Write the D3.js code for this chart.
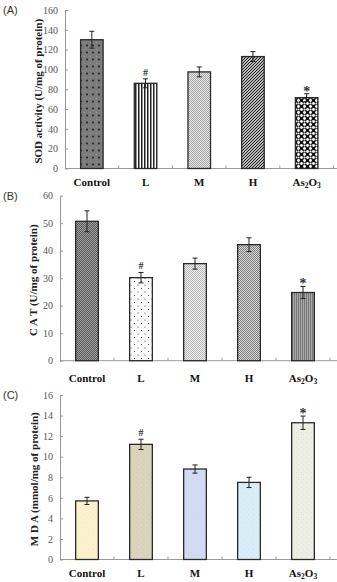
<!DOCTYPE html>
<html>
<head>
<meta charset="utf-8">
<script src="https://cdn.jsdelivr.net/npm/d3@7"></script>
<style>
  body { margin: 0; background: #fff; }
  svg { display: block; }
</style>
</head>
<body>
<div id="chartDiv"></div>
<script>
// groups and values
var groups = ["Control", "L", "M", "H", "As2O3"];

var sodValues = [130, 86, 97.5, 113, 71.5];
var sodErrors = [8.5, 4.5, 5, 5, 4];
var sodTicks = [0, 20, 40, 60, 80, 100, 120, 140, 160];

var catValues = [50.7, 30.2, 35.3, 42.2, 24.8];
var catErrors = [3.8, 1.9, 2.0, 2.5, 2.2];
var catTicks = [0, 10, 20, 30, 40, 50, 60];

var mdaValues = [5.7, 11.2, 8.8, 7.5, 13.3];
var mdaErrors = [0.35, 0.5, 0.4, 0.5, 0.65];
var mdaTicks = [0, 2, 4, 6, 8, 10, 12, 14, 16];

var marks = ["", "#", "", "", "*"];

;(function() {

	var width = 337;
	var height = 582;

	var svg = d3.select("#chartDiv").append("svg")
		.attr("width", width)
		.attr("height", height);

	var defs = svg.append("defs");

	// ---- fill patterns ----
	function pattern(id, w, h, bg) {
		var p = defs.append("pattern")
			.attr("id", id)
			.attr("patternUnits", "userSpaceOnUse")
			.attr("width", w)
			.attr("height", h);
		p.append("rect").attr("width", w).attr("height", h).attr("fill", bg);
		return p;
	}
	function checker(id, a, b) {
		var p = pattern(id, 2, 2, a);
		p.append("rect").attr("width", 1).attr("height", 1).attr("fill", b);
		p.append("rect").attr("x", 1).attr("y", 1).attr("width", 1).attr("height", 1).attr("fill", b);
	}

	// panel A
	var p = pattern("pA0", 6, 7, "#7c7c7c");
	p.append("rect").attr("x", 0).attr("y", 0).attr("width", 1).attr("height", 1).attr("fill", "#9a9a9a");
	p.append("rect").attr("x", 3).attr("y", 3).attr("width", 1).attr("height", 1).attr("fill", "#9a9a9a");
	p.append("circle").attr("cx", 3).attr("cy", 3.5).attr("r", 0.9).attr("fill", "#111");

	p = pattern("pA1", 3, 3, "#fff");
	p.append("rect").attr("width", 1.5).attr("height", 3).attr("fill", "#222");

	checker("pA2", "#e6e6e6", "#a8a8a8");

	p = pattern("pA3", 3, 3, "#fff");
	p.append("path").attr("d", "M-1,1 L1,-1 M0,3 L3,0 M2,4 L4,2").attr("stroke", "#1a1a1a").attr("stroke-width", 1.2);

	p = pattern("pA4", 6, 6, "#111");
	p.append("circle").attr("cx", 1.5).attr("cy", 1.5).attr("r", 1.4).attr("fill", "#fff");
	p.append("circle").attr("cx", 4.5).attr("cy", 4.5).attr("r", 1.4).attr("fill", "#fff");
	p.append("circle").attr("cx", 4.5).attr("cy", 1.5).attr("r", 1.1).attr("fill", "#eee");

	// panel B
	checker("pB0", "#5a5a5a", "#a0a0a0");
	p = pattern("pB1", 7, 7, "#fff");
	p.append("circle").attr("cx", 1.5).attr("cy", 1.5).attr("r", 0.6).attr("fill", "#333");
	p.append("circle").attr("cx", 5).attr("cy", 5).attr("r", 0.6).attr("fill", "#333");
	checker("pB2", "#f2f2f2", "#b4b4b4");
	checker("pB3", "#d8d8d8", "#7e7e7e");
	p = pattern("pB4", 2, 2, "#a9a9a9");
	p.append("rect").attr("width", 1).attr("height", 2).attr("fill", "#777");

	// panel C (light colour fills with a bit of speckle)
	function speckle(id, bg, dot) {
		var q = pattern(id, 5, 5, bg);
		q.append("rect").attr("x", 1).attr("y", 2).attr("width", 1).attr("height", 1).attr("fill", dot);
		q.append("rect").attr("x", 3).attr("y", 4).attr("width", 1).attr("height", 1).attr("fill", dot);
	}
	speckle("pC0", "#fbf1cf", "#f6e9c0");
	speckle("pC1", "#d9d4bb", "#cfc9ae");
	speckle("pC2", "#d0dcf4", "#dccde9");
	speckle("pC3", "#d9eef8", "#cbe4f2");
	speckle("pC4", "#edefe7", "#dfe2d8");

	var panels = [
		{ label: "(A)", labelY: 14, values: sodValues, errors: sodErrors, ticks: sodTicks,
		  title: "SOD activity (U/mg of protein)", titleX: 42, left: 65, right: 333.5, top: 10, bottom: 168.5,
		  xLabelY: 186, fills: ["pA0", "pA1", "pA2", "pA3", "pA4"] },
		{ label: "(B)", labelY: 200, values: catValues, errors: catErrors, ticks: catTicks,
		  title: "C A T (U/mg of protein)", titleX: 37, left: 60, right: 330, top: 195.7, bottom: 360.7,
		  xLabelY: 382, fills: ["pB0", "pB1", "pB2", "pB3", "pB4"] },
		{ label: "(C)", labelY: 399, values: mdaValues, errors: mdaErrors, ticks: mdaTicks,
		  title: "M D A (mmol/mg of protein)", titleX: 38, left: 60, right: 330, top: 395, bottom: 559.5,
		  xLabelY: 577, fills: ["pC0", "pC1", "pC2", "pC3", "pC4"] }
	];

	panels.forEach(drawPanel);

	function drawPanel(cfg) {
		var g = svg.append("g");

		var xScale = d3.scaleBand()
			.domain(groups)
			.range([cfg.left, cfg.right])
			.padding(0);

		var yScale = d3.scaleLinear()
			.domain([cfg.ticks[0], cfg.ticks[cfg.ticks.length - 1]])
			.range([cfg.bottom, cfg.top]);

		// y axis
		var yAxis = d3.axisLeft(yScale)
			.tickValues(cfg.ticks)
			.tickSizeInner(-3)
			.tickSizeOuter(0)
			.tickPadding(7);

		var yg = g.append("g")
			.attr("transform", "translate(" + cfg.left + ",0)")
			.call(yAxis);
		yg.select(".domain").attr("stroke", "#999");
		yg.selectAll(".tick line").attr("stroke", "#999");
		yg.selectAll(".tick text")
			.attr("fill", "#555")
			.style("font-family", "'Liberation Serif', 'Times New Roman', serif")
			.style("font-size", "10px");

		// x axis line with small ticks between categories
		g.append("line")
			.attr("x1", cfg.left).attr("x2", width)
			.attr("y1", cfg.bottom).attr("y2", cfg.bottom)
			.attr("stroke", "#999");

		var bounds = groups.slice(1).map(function(d) { return xScale(d); });
		bounds.push(cfg.right);
		g.selectAll(".xtick")
			.data(bounds)
			.enter().append("line")
			.attr("class", "xtick")
			.attr("x1", function(d) { return d; })
			.attr("x2", function(d) { return d; })
			.attr("y1", cfg.bottom)
			.attr("y2", cfg.bottom - 3)
			.attr("stroke", "#999");

		var barW = xScale.bandwidth() * 0.42;

		// bars
		g.selectAll(".bar")
			.data(groups)
			.enter().append("rect")
			.attr("class", "bar")
			.attr("x", function(d) { return xScale(d) + (xScale.bandwidth() - barW) / 2; })
			.attr("y", function(d, i) { return yScale(cfg.values[i]); })
			.attr("width", barW)
			.attr("height", function(d, i) { return cfg.bottom - yScale(cfg.values[i]); })
			.attr("fill", function(d, i) { return "url(#" + cfg.fills[i] + ")"; })
			.attr("stroke", "#2a2a2a")
			.attr("stroke-width", 1.3);

		// error bars
		var cap = 2.5;
		var eb = g.selectAll(".err")
			.data(groups)
			.enter().append("g")
			.attr("class", "err")
			.attr("stroke", "#222")
			.attr("stroke-width", 1);

		eb.append("line")
			.attr("x1", function(d) { return xScale(d) + xScale.bandwidth() / 2; })
			.attr("x2", function(d) { return xScale(d) + xScale.bandwidth() / 2; })
			.attr("y1", function(d, i) { return yScale(cfg.values[i] - cfg.errors[i]); })
			.attr("y2", function(d, i) { return yScale(cfg.values[i] + cfg.errors[i]); });
		eb.append("line")
			.attr("x1", function(d) { return xScale(d) + xScale.bandwidth() / 2 - cap; })
			.attr("x2", function(d) { return xScale(d) + xScale.bandwidth() / 2 + cap; })
			.attr("y1", function(d, i) { return yScale(cfg.values[i] + cfg.errors[i]); })
			.attr("y2", function(d, i) { return yScale(cfg.values[i] + cfg.errors[i]); });
		eb.append("line")
			.attr("x1", function(d) { return xScale(d) + xScale.bandwidth() / 2 - cap; })
			.attr("x2", function(d) { return xScale(d) + xScale.bandwidth() / 2 + cap; })
			.attr("y1", function(d, i) { return yScale(cfg.values[i] - cfg.errors[i]); })
			.attr("y2", function(d, i) { return yScale(cfg.values[i] - cfg.errors[i]); });

		// significance marks
		g.selectAll(".sig")
			.data(groups)
			.enter().append("text")
			.attr("class", "sig")
			.attr("x", function(d) { return xScale(d) + xScale.bandwidth() / 2; })
			.attr("y", function(d, i) { return yScale(cfg.values[i] + cfg.errors[i]) - (marks[i] === "*" ? -2 : 3); })
			.attr("text-anchor", "middle")
			.style("font-family", "'Liberation Serif', 'Times New Roman', serif")
			.style("font-size", function(d, i) { return marks[i] === "*" ? "14px" : "10px"; })
			.style("font-weight", "bold")
			.attr("fill", "#333")
			.text(function(d, i) { return marks[i]; });

		// category labels
		var xl = g.selectAll(".xlab")
			.data(groups)
			.enter().append("text")
			.attr("class", "xlab")
			.attr("x", function(d) { return xScale(d) + xScale.bandwidth() / 2; })
			.attr("y", cfg.xLabelY)
			.attr("text-anchor", "middle")
			.style("font-family", "'Liberation Serif', 'Times New Roman', serif")
			.style("font-size", "11px")
			.style("font-weight", "bold")
			.attr("fill", "#111");
		xl.each(function(d) {
			var t = d3.select(this);
			if (d === "As2O3") {
				t.append("tspan").text("As");
				t.append("tspan").attr("dy", 1.5).style("font-size", "7.5px").text("2");
				t.append("tspan").attr("dy", -1.5).text("O");
				t.append("tspan").attr("dy", 1.5).style("font-size", "7.5px").text("3");
			} else {
				t.text(d);
			}
		});

		// y axis title
		g.append("text")
			.attr("transform", "translate(" + cfg.titleX + "," + ((cfg.top + cfg.bottom) / 2 + 2) + ") rotate(-90)")
			.attr("text-anchor", "middle")
			.style("font-family", "'Liberation Serif', 'Times New Roman', serif")
			.style("font-size", "11px")
			.style("font-weight", "bold")
			.attr("fill", "#222")
			.text(cfg.title);

		// panel label
		g.append("text")
			.attr("x", 3)
			.attr("y", cfg.labelY)
			.style("font-family", "'Liberation Sans', Arial, sans-serif")
			.style("font-size", "11px")
			.attr("fill", "#333")
			.text(cfg.label);
	}

})();
</script>
</body>
</html>
